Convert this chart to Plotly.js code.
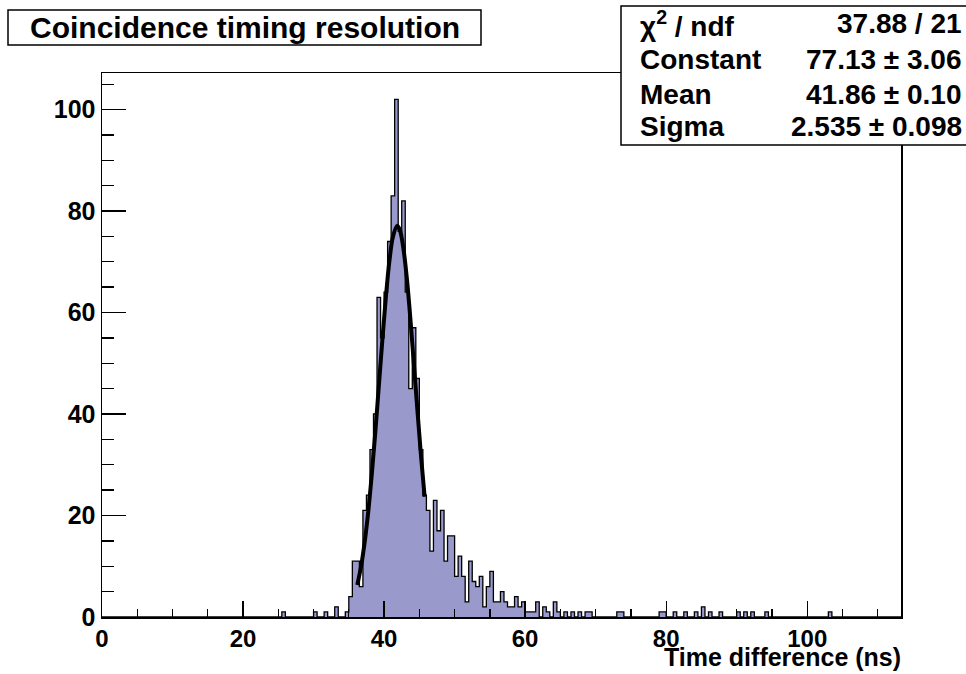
<!DOCTYPE html>
<html>
<head>
<meta charset="utf-8">
<script src="https://cdn.plot.ly/plotly-3.0.1.min.js"></script>
<style>html,body{margin:0;padding:0;background:#fff;}#chart{width:966px;height:674px;}</style>
</head>
<body>
<div id="chart"></div>
<script>
// Histogram: bin width 0.5 ns, non-empty bins (low edge, counts)
const binWidth = 0.5;
const histMin = 0;
const histMax = 113.5;
const binLow = [25.5, 30, 31.5, 33, 34.5, 35, 35.5, 36, 36.5, 37, 37.5, 38, 38.5, 39, 39.5, 40, 40.5, 41, 41.5, 42, 42.5, 43, 43.5, 44, 44.5, 45, 45.5, 46, 46.5, 47, 47.5, 48, 48.5, 49, 49.5, 50, 50.5, 51, 51.5, 52, 52.5, 53, 53.5, 54, 54.5, 55, 55.5, 56, 56.5, 57, 57.5, 58, 58.5, 59, 59.5, 60, 60.5, 61, 61.5, 62.5, 63, 64, 64.5, 65.5, 66.5, 67.5, 68.5, 69, 73, 73.5, 79, 79.5, 81, 82.5, 84, 85, 86, 87.5, 90, 91, 92, 94, 103];
const binCount = [1, 1, 1, 2, 1, 4, 11, 11, 6, 21, 24, 33, 40, 63, 55, 64, 74, 83, 102, 76, 82, 64, 45, 57, 47, 33, 24, 21, 13, 23, 17, 21, 11, 16, 16, 8, 12, 8, 3, 11, 7, 6, 8, 2, 6, 9, 3, 3, 5, 3, 2, 2, 4, 2, 3, 1, 1, 1, 3, 2, 1, 3, 1, 1, 1, 1, 1, 1, 1, 1, 1, 1, 1, 1, 1, 2, 1, 1, 1, 1, 1, 1, 1];

// Gaussian fit curve
const fitX = [36.2, 36.75, 37.25, 37.75, 38.25, 38.75, 39.25, 39.75, 40.25, 40.75, 41.25, 41.86, 42.25, 42.75, 43.25, 43.75, 44.25, 44.75, 45.25, 45.75];
const fitY = [6.3, 10.1, 14.8, 20.7, 28.0, 36.3, 45.4, 54.5, 63.0, 70.1, 74.9, 77.1, 76.2, 72.5, 66.4, 58.4, 49.4, 40.3, 31.5, 23.7];

const statLabels = ['χ<sup>2</sup> / ndf', 'Constant', 'Mean', 'Sigma'];
const statValues = ['37.88 / 21', '77.13 ± 3.06', '41.86 ± 0.10', '2.535 ± 0.098'];
const titleText = 'Coincidence timing resolution';
const xTitle = 'Time difference (ns)';

// build step outline
const lookup = {};
binLow.forEach((b, i) => { lookup[b.toFixed(1)] = binCount[i]; });
const nBins = Math.round((histMax - histMin) / binWidth);
const sx = [], sy = [];
for (let i = 0; i < nBins; i++) {
  const lo = histMin + i * binWidth;
  sx.push(lo);
  sy.push(lookup[lo.toFixed(1)] || 0);
}
sx.push(histMax); sy.push(sy[sy.length - 1]);

const hist = {
  x: sx, y: sy, type: 'scatter', mode: 'lines',
  line: {shape: 'hv', color: '#000', width: 1.3},
  fill: 'tozeroy', fillcolor: '#9999cc',
  hoverinfo: 'skip', showlegend: false
};
const fit = {
  x: fitX, y: fitY, type: 'scatter', mode: 'lines',
  line: {shape: 'spline', color: '#000', width: 4},
  showlegend: false
};

const L = 102, T = 73, W = 799, H = 544;
const px = v => (v - L) / W;
const py = v => (617 - v) / H;
const bold = {family: 'Liberation Sans, Arial, sans-serif', weight: 700, color: '#000'};

const annotations = [];
annotations.push({text: titleText, xref: 'paper', yref: 'paper', x: px(245), y: py(27), xanchor: 'center', yanchor: 'middle', showarrow: false, font: Object.assign({size: 30}, bold)});
annotations.push({text: xTitle, xref: 'paper', yref: 'paper', x: px(903), y: py(657), xanchor: 'right', yanchor: 'middle', showarrow: false, font: Object.assign({size: 25}, bold)});
const rowY = [24, 60, 95, 127];
statLabels.forEach((s, i) => {
  annotations.push({text: s, xref: 'paper', yref: 'paper', x: px(638), y: py(rowY[i]), xanchor: 'left', yanchor: 'middle', showarrow: false, font: Object.assign({size: 28}, bold)});
  annotations.push({text: statValues[i], xref: 'paper', yref: 'paper', x: px(964), y: py(rowY[i]), xanchor: 'right', yanchor: 'middle', showarrow: false, font: Object.assign({size: 28}, bold)});
});

const shapes = [
  {type: 'rect', xref: 'paper', yref: 'paper', x0: px(8), x1: px(481), y0: py(45), y1: py(10), line: {color: '#000', width: 1.5}, fillcolor: '#fff', layer: 'above'},
  {type: 'rect', xref: 'paper', yref: 'paper', x0: px(621), x1: px(975), y0: py(145), y1: py(6), line: {color: '#000', width: 1.5}, fillcolor: '#fff', layer: 'above'}
];

const layout = {
  width: 966, height: 674,
  margin: {l: L, r: 966 - L - W, t: T, b: 674 - T - H},
  paper_bgcolor: '#fff', plot_bgcolor: '#fff',
  showlegend: false,
  xaxis: {
    range: [0, 113.3], tick0: 0, dtick: 20, ticks: 'inside', ticklen: 16, tickwidth: 1.3, tickcolor: '#000',
    minor: {dtick: 5, ticks: 'inside', ticklen: 8, tickwidth: 1.3, tickcolor: '#000'},
    showline: true, linecolor: '#000', linewidth: 1.5, mirror: true, showgrid: false, zeroline: false,
    tickfont: Object.assign({size: 24}, bold), fixedrange: true
  },
  yaxis: {
    range: [0, 107.2], tick0: 0, dtick: 20, ticks: 'inside', ticklen: 24, tickwidth: 1.3, tickcolor: '#000',
    minor: {dtick: 5, ticks: 'inside', ticklen: 12, tickwidth: 1.3, tickcolor: '#000'},
    showline: true, linecolor: '#000', linewidth: 1.5, mirror: true, showgrid: false, zeroline: false,
    tickfont: Object.assign({size: 25}, bold), fixedrange: true
  },
  shapes: shapes,
  annotations: annotations
};

Plotly.newPlot('chart', [hist, fit], layout, {displayModeBar: false, staticPlot: true});
</script>
</body>
</html>
